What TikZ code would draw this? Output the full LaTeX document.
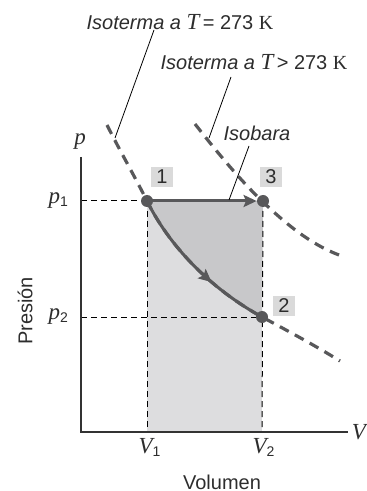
\documentclass[tikz,border=0pt]{standalone}
\usepackage{fontspec}
\setmainfont{Liberation Sans}
\newfontfamily\varfont{Liberation Serif}
\usetikzlibrary{arrows.meta,positioning,calc,decorations.markings}
\definecolor{curvegray}{RGB}{88,88,90}
\definecolor{lightfill}{RGB}{221,221,223}
\definecolor{darkfill}{RGB}{200,200,202}
\definecolor{tagfill}{RGB}{218,218,218}
\definecolor{textgray}{RGB}{45,45,45}
\newcommand{\var}[1]{{\varfont\itshape\fontsize{11.5}{12}\selectfont #1}}

\begin{document}
\begin{tikzpicture}[
  x=0.5pt,y=-0.5pt,
  font=\fontsize{10}{12}\selectfont,
  text=textgray,
  axis/.style={draw=black!80,line width=0.6pt},
  guide/.style={draw=black,line width=0.5pt,dash pattern=on 3pt off 2pt},
  leader/.style={draw=black,line width=0.4pt},
  isotherm/.style={draw=curvegray,line width=1.6pt,dash pattern=on 5pt off 3.5pt},
  process/.style={draw=curvegray,line width=1.5pt},
  dot/.style={circle,fill=curvegray,inner sep=0pt,minimum size=6pt},
  tag/.style={fill=tagfill,inner sep=0pt,minimum width=11pt,minimum height=10pt},
  note/.style={font=\fontsize{10}{12}\selectfont\itshape}
]
\useasboundingbox (0,0) rectangle (366,491);

% -------------------------------------------------------------------------
% states and axes
% -------------------------------------------------------------------------
\coordinate (origin) at (81,432);
\coordinate (ytop) at (81,157);
\coordinate (xend) at (348,432);
\coordinate (v1) at (147,432);
\coordinate (v2) at (262,432);
\coordinate (p1) at (81,201);
\coordinate (p2) at (81,317);

% shaded work areas
\fill[lightfill] (147,201) rectangle (v2);
\fill[darkfill] (147,201) -- (263,201) -- (262,317)
  .. controls (215,291) and (172,251) .. (147,201) -- cycle;

% dashed guides
\draw[guide] (p1) -- (147,201);
\draw[guide] (p2) -- (262,317);
\draw[guide] (147,201) -- (v1);
\draw[guide] (263,201) -- (v2);

\draw[axis] (ytop) -- (origin) -- (xend);

% isotherms
\draw[isotherm] (107,125) .. controls (120,151) and (135,177) .. (147,201)
  .. controls (172,251) and (215,291) .. (262,317)
  .. controls (288,331) and (316,346) .. (340,361);
\draw[isotherm] (195,124) .. controls (217,152) and (240,180) .. (263,202)
  .. controls (285,223) and (310,244) .. (339,255);

\node[dot] (pt1) at (147,201) {};
\node[dot] (pt3) at (263,201) {};
\node[dot] (pt2) at (262,317) {};

% processes 1-3 and 1-2
\draw[process,-{Stealth[length=6.5pt,width=6pt,inset=1.2pt]}] (pt1.center) -- (pt3.west);
\draw[process,postaction={decorate},decoration={markings,
  mark=at position 0.63 with {\arrow{Stealth[length=6.5pt,width=6pt,inset=1.2pt]}}}]
  (pt1.center) .. controls (172,251) and (215,291) .. (pt2.center);

\node[tag] (tag1) at (162,177) {1};
\node[tag] (tag3) at (271,177) {3};
\node[tag] (tag2) at (284,306) {2};

% -------------------------------------------------------------------------
% labels
% -------------------------------------------------------------------------
\node (plbl) at (80,142) {\var{p}};
\node[anchor=east] (p1lbl) at (76,201) {\var{p}\textsubscript{1}};
\node[anchor=east] (p2lbl) at (76,317) {\var{p}\textsubscript{2}};
\node (v1lbl) at (150,447) {\var{V}\textsubscript{1}};
\node (v2lbl) at (264,447) {\var{V}\textsubscript{2}};
\node (vlbl) at (359,432) {\var{V}};
\node (vol) at (222,482) {Volumen};
\node[rotate=90] (pres) at (25,311) {Presión};

\node[note] (iso1lbl) at (180,22) {Isoterma a \var{T}\,\upshape = 273 {\varfont K}};
\node[note] (iso2lbl) at (254,62) {Isoterma a \var{T}\,\upshape > 273 {\varfont K}};
\node[note] (isoblbl) at (257,133) {Isobara};

\coordinate (iso1top) at (154,30);
\coordinate (iso1end) at (115,138);
\coordinate (iso2top) at (231,77);
\coordinate (iso2end) at (209,138);
\coordinate (isobtop) at (249,146);
\coordinate (isobend) at (229,200);
\draw[leader] (iso1top) -- (iso1end);
\draw[leader] (iso2top) -- (iso2end);
\draw[leader] (isobtop) -- (isobend);
\end{tikzpicture}
\end{document}
